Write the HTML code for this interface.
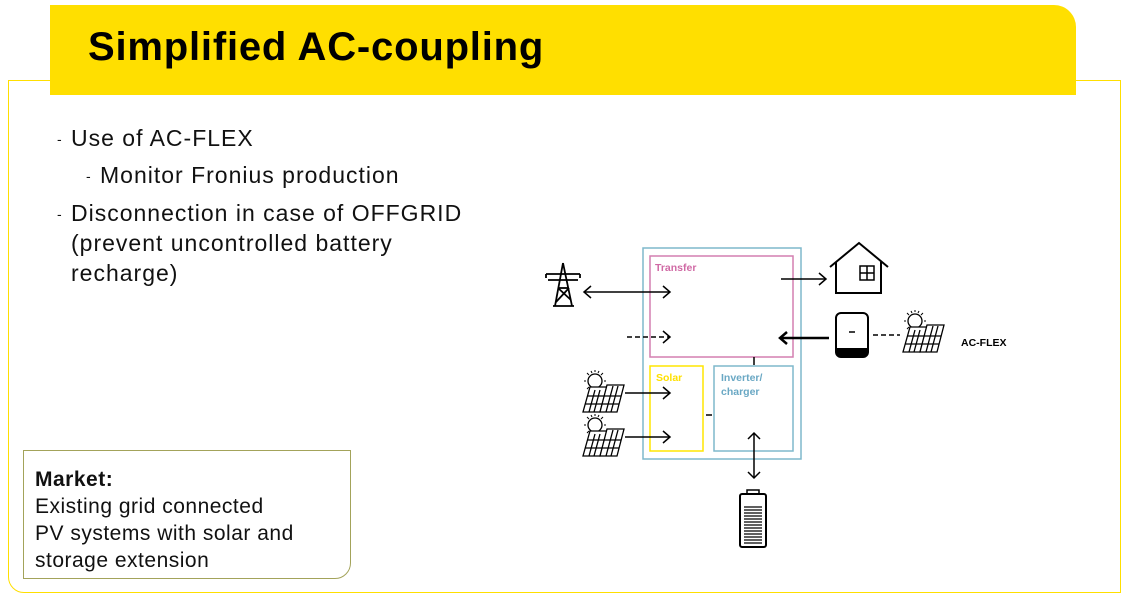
<!DOCTYPE html>
<html><head><meta charset="utf-8"><style>
html,body{margin:0;padding:0;background:#fff;width:1130px;height:606px;overflow:hidden;font-family:"Liberation Sans",sans-serif}
.frame{position:absolute;left:8px;top:80px;width:1113px;height:513px;border:1.5px solid #ffdf00;border-radius:0 0 0 16px;box-sizing:border-box}
.hdr{position:absolute;left:50px;top:5px;width:1026px;height:90px;background:#ffdf00;border-radius:0 22px 0 0}
.hdr span{position:absolute;left:38px;top:20px;font-size:40px;font-weight:bold;color:#000;letter-spacing:0.8px}
.t{position:absolute;font-size:23px;letter-spacing:1px;color:#111;white-space:nowrap}
.d{position:absolute;font-size:14px;color:#111}
.mk{position:absolute;left:23px;top:450px;width:328px;height:129px;border:1.2px solid #a3a35a;border-radius:0 0 16px 0;box-sizing:border-box;font-size:21px;letter-spacing:0.5px;line-height:27px;padding:15px 0 0 11px;color:#111}
</style></head><body>
<div class="frame"></div>
<div class="hdr"><span>Simplified AC-coupling</span></div>
<div class="d" style="left:57px;top:131px">-</div>
<div class="t" style="left:71px;top:125px">Use of AC-FLEX</div>
<div class="d" style="left:86px;top:168px">-</div>
<div class="t" style="left:100px;top:162px">Monitor Fronius production</div>
<div class="d" style="left:57px;top:206px">-</div>
<div class="t" style="left:71px;top:200px">Disconnection in case of OFFGRID</div>
<div class="t" style="left:71px;top:230px">(prevent uncontrolled battery</div>
<div class="t" style="left:71px;top:260px">recharge)</div>
<div class="mk"><b>Market:</b><br>Existing grid connected<br>PV systems with solar and<br>storage extension</div>
<svg width="1130" height="606" style="position:absolute;left:0;top:0" fill="none" stroke="#000" stroke-width="1.5">
<rect x="643" y="248" width="158" height="211" stroke="#7fb8cc" stroke-width="1.5"/>
<rect x="650" y="256" width="143" height="101" stroke="#d47fb0" stroke-width="1.5"/>
<rect x="650" y="366" width="53" height="85" stroke="#ffe600" stroke-width="1.5"/>
<rect x="714" y="366" width="79" height="85" stroke="#7fb8cc" stroke-width="1.5"/>
<text x="655" y="271" fill="#d06aa5" stroke="none" font-size="10.5" font-weight="bold">Transfer</text>
<text x="656" y="381" fill="#ffe000" stroke="none" font-size="10.5" font-weight="bold">Solar</text>
<text x="721" y="381" fill="#6aa8c4" stroke="none" font-size="10.5" font-weight="bold">Inverter/</text>
<text x="721" y="395" fill="#6aa8c4" stroke="none" font-size="10.5" font-weight="bold">charger</text>
<text x="961" y="346" fill="#000" stroke="none" font-size="10.5" font-weight="bold">AC-FLEX</text>
<line x1="754" y1="357" x2="754" y2="365"/>
<line x1="706" y1="415" x2="712" y2="415"/>
<line x1="585" y1="292" x2="670" y2="292"/>
<polyline points="591,286 584,292 591,298"/><polyline points="663,286 670,292 663,298"/>
<line x1="627" y1="337" x2="670" y2="337" stroke-dasharray="5,3"/>
<polyline points="663,331 670,337 663,343"/>
<line x1="781" y1="279" x2="826" y2="279"/>
<polyline points="819,273 826,279 819,285"/>
<line x1="780" y1="338" x2="829" y2="338" stroke-width="2.5"/>
<polyline points="787,332 780,338 787,344" stroke-width="2.5"/>
<line x1="625" y1="393" x2="670" y2="393"/><polyline points="663,387 670,393 663,399"/>
<line x1="625" y1="437" x2="670" y2="437"/><polyline points="663,431 670,437 663,443"/>
<line x1="754" y1="433" x2="754" y2="478"/>
<polyline points="748,439 754,433 760,439"/><polyline points="748,472 754,478 760,472"/>
<rect x="740" y="494" width="26" height="53" rx="2" stroke-width="2"/>
<rect x="747" y="490" width="12" height="4"/>
<g stroke-width="1.2"><line x1="744" y1="507" x2="762" y2="507"/><line x1="744" y1="510" x2="762" y2="510"/><line x1="744" y1="513" x2="762" y2="513"/><line x1="744" y1="516" x2="762" y2="516"/><line x1="744" y1="519" x2="762" y2="519"/><line x1="744" y1="522" x2="762" y2="522"/><line x1="744" y1="525" x2="762" y2="525"/><line x1="744" y1="528" x2="762" y2="528"/><line x1="744" y1="531" x2="762" y2="531"/><line x1="744" y1="534" x2="762" y2="534"/><line x1="744" y1="537" x2="762" y2="537"/><line x1="744" y1="540" x2="762" y2="540"/><line x1="744" y1="543" x2="762" y2="543"/></g>
<polyline points="830,267 859,243 888,267" stroke-width="2"/>
<polyline points="836,262 836,293 881,293 881,262" stroke-width="2"/>
<rect x="860" y="266" width="14" height="14"/><line x1="867" y1="266" x2="867" y2="280"/><line x1="860" y1="273" x2="874" y2="273"/>
<g stroke-width="1.8">
<line x1="546" y1="274" x2="580" y2="274"/><line x1="548" y1="280" x2="578" y2="280"/>
<line x1="563" y1="263" x2="555" y2="306"/><line x1="563" y1="263" x2="572" y2="306"/>
<line x1="553" y1="306" x2="574" y2="306"/>
<line x1="558" y1="288" x2="569" y2="288"/><line x1="558" y1="288" x2="571" y2="300"/><line x1="569" y1="288" x2="556" y2="302"/>
<line x1="546" y1="274" x2="546" y2="278"/><line x1="580" y1="274" x2="580" y2="278"/>
</g>
<rect x="836" y="313" width="32" height="44" rx="5" stroke-width="2"/>
<rect x="837" y="348" width="30" height="8" fill="#000" stroke="none"/>
<line x1="849" y1="332" x2="855" y2="332"/>
<line x1="873" y1="335" x2="900" y2="335" stroke-dasharray="5,3"/>
<g id="pv" stroke-width="1.3">
<circle cx="915" cy="321" r="7"/>
<g stroke-width="1"><line x1="915" y1="310" x2="915" y2="312"/><line x1="904" y1="321" x2="906" y2="321"/><line x1="924" y1="321" x2="926" y2="321"/><line x1="907" y1="313" x2="909" y2="315"/><line x1="923" y1="313" x2="921" y2="315"/><line x1="907" y1="329" x2="909" y2="327"/><line x1="911" y1="311" x2="912" y2="313"/><line x1="919" y1="311" x2="918" y2="313"/></g>
<polygon points="903,352 920,352 927,327 910,327" fill="#fff"/>
<polygon points="920,352 937,352 944,325 927,325" fill="#fff"/>
<line x1="905" y1="344" x2="922" y2="344"/><line x1="907" y1="336" x2="924" y2="336"/><line x1="922" y1="344" x2="939" y2="344"/><line x1="924" y1="336" x2="941" y2="336"/>
<line x1="909" y1="352" x2="915" y2="330"/><line x1="914" y1="352" x2="920" y2="330"/><line x1="926" y1="352" x2="933" y2="326"/><line x1="931" y1="352" x2="938" y2="326"/>
</g>
<use href="#pv" transform="translate(-320,60)"/>
<use href="#pv" transform="translate(-320,104)"/>
</svg>
</body></html>
